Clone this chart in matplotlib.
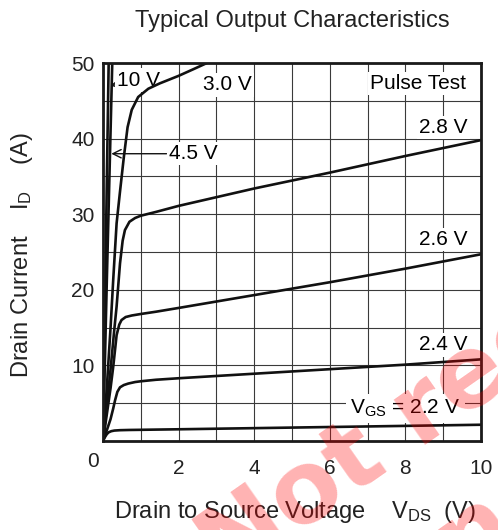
import matplotlib
matplotlib.use('Agg')
import matplotlib.pyplot as plt
import numpy as np

plt.rcParams['font.family'] = ['Liberation Sans', 'DejaVu Sans']
plt.rcParams['mathtext.fontset'] = 'custom'
plt.rcParams['mathtext.rm'] = 'Liberation Sans'
plt.rcParams['mathtext.it'] = 'Liberation Sans:italic'

# ---- data (VDS in V, ID in A) ----
vds_10v = [0, 0.05, 0.10, 0.15]
id_10v = [0, 17, 34, 50]

vds_45v = [0, 0.05, 0.10, 0.15, 0.20, 0.245]
id_45v = [0, 10.5, 21, 31, 41, 50]

vds_30v = [0, 0.10, 0.20, 0.27, 0.36, 0.45, 0.55, 0.65, 0.76, 0.93, 1.2, 1.5, 2.0, 2.4, 2.75]
id_30v = [0, 7, 15, 21.3, 28.8, 33.0, 37.5, 41.5, 43.8, 45.5, 46.6, 47.3, 48.3, 49.2, 50]

vds_28v = [0, 0.10, 0.20, 0.30, 0.36, 0.45, 0.52, 0.58, 0.70, 0.85, 1.0, 1.4, 2.0, 4.0, 6.0, 8.0, 10.0]
id_28v = [0, 4.5, 9.5, 14.8, 17.8, 23.5, 26.5, 27.9, 29.0, 29.5, 29.8, 30.3, 31.1, 33.4, 35.5, 37.7, 39.8]

vds_26v = [0, 0.10, 0.20, 0.27, 0.36, 0.43, 0.49, 0.60, 0.76, 1.0, 1.4, 2.0, 4.0, 6.0, 8.0, 10.0]
id_26v = [0, 3.5, 7.0, 9.8, 14.0, 15.4, 16.0, 16.4, 16.6, 16.8, 17.1, 17.6, 19.3, 21.0, 22.8, 24.7]

vds_24v = [0, 0.10, 0.20, 0.27, 0.32, 0.38, 0.45, 0.55, 0.67, 0.85, 1.0, 1.4, 2.0, 4.0, 6.0, 8.0, 10.0]
id_24v = [0, 1.4, 2.9, 4.3, 5.4, 6.5, 7.1, 7.4, 7.6, 7.8, 7.9, 8.1, 8.3, 8.9, 9.5, 10.1, 10.8]

vds_22v = [0, 0.05, 0.10, 0.15, 0.22, 0.30, 0.45, 0.7, 1.0, 2.0, 4.0, 6.0, 8.0, 10.0]
id_22v = [0, 0.5, 0.9, 1.15, 1.3, 1.38, 1.43, 1.46, 1.48, 1.55, 1.7, 1.85, 2.0, 2.15]

x_ticks = [2, 4, 6, 8, 10]
y_ticks = [10, 20, 30, 40, 50]

curves = [(vds_10v, id_10v), (vds_45v, id_45v), (vds_30v, id_30v), (vds_28v, id_28v),
          (vds_26v, id_26v), (vds_24v, id_24v), (vds_22v, id_22v)]

fig = plt.figure(figsize=(4.98, 5.30), dpi=100)
ax = fig.add_axes([103 / 498, 89 / 530, 378 / 498, 378 / 530])

for vds, ids in curves:
    ax.plot(vds, ids, color='#111111', lw=1.9, solid_capstyle='round', zorder=2)

ax.set_xlim(0, 10)
ax.set_ylim(0, 50)
ax.set_xticks(x_ticks)
ax.set_yticks(y_ticks)
ax.set_xticks(np.arange(0, 11, 1), minor=True)
ax.set_yticks(np.arange(0, 51, 5), minor=True)
ax.tick_params(which='both', length=0, labelsize=15, colors='#222222')
ax.tick_params(axis='x', pad=13)
ax.tick_params(axis='y', pad=6)
ax.set_axisbelow(True)
ax.grid(which='both', color='#3a3a3a', lw=0.8)
for sp in ax.spines.values():
    sp.set_linewidth(2.0)
    sp.set_color('#1a1a1a')

# shared origin label
ax.text(-0.265, -2.65, '0', ha='center', va='center', fontsize=15, color='#222222', clip_on=False)

ax.set_title('Typical Output Characteristics', fontsize=17, color='#222222', y=1.095, pad=0)
ax.set_xlabel(r'Drain to Source Voltage    V$_\mathregular{DS}$  (V)', fontsize=17, color='#222222', va='center')
ax.xaxis.set_label_coords(0.507, -0.188)
ax.set_ylabel(r'Drain Current    I$_\mathregular{D}$    (A)', fontsize=17, color='#222222', va='center')
ax.yaxis.set_label_coords(-0.213, 0.492)

box = dict(facecolor='white', edgecolor='none', pad=1.5)
arrow = dict(arrowstyle='->', lw=1.0, color='#111111', shrinkA=0, shrinkB=0)

ax.annotate('10 V', xy=(0.19, 47.0), xytext=(0.93, 47.75), fontsize=15, ha='center', va='center',
            bbox=box, arrowprops=arrow, zorder=1.5)
ax.annotate('4.5 V', xy=(0.22, 38.0), xytext=(2.38, 38.0), fontsize=15, ha='center', va='center',
            bbox=box, arrowprops=arrow, zorder=1.5)
ax.text(3.3, 47.1, '3.0 V', fontsize=15, ha='center', va='center', bbox=box, zorder=1.5)
ax.text(8.33, 47.3, 'Pulse Test', fontsize=15, ha='center', va='center', bbox=box, zorder=1.5)
ax.text(9.0, 41.5, '2.8 V', fontsize=15, ha='center', va='center', bbox=box, zorder=1.5)
ax.text(9.0, 26.65, '2.6 V', fontsize=15, ha='center', va='center', bbox=box, zorder=1.5)
ax.text(9.0, 12.7, '2.4 V', fontsize=15, ha='center', va='center', bbox=box, zorder=1.5)
ax.text(8.0, 4.3, r'V$_\mathregular{GS}$ = 2.2 V', fontsize=15, ha='center', va='center',
        bbox=dict(facecolor='white', edgecolor='none', pad=3), zorder=1.5)

# watermark, two parallel lines running up to the right
mark = dict(transform=fig.transFigure, rotation=35, rotation_mode='anchor', ha='left',
            va='baseline', fontsize=72, fontweight='bold', family='DejaVu Sans',
            color='red', alpha=0.3, zorder=5, clip_on=False)
ax.text(226 / 498, 1 - 584 / 530, 'Not recommended', **mark)
ax.text(302 / 498, 1 - 692 / 530, 'for new designs', **mark)

fig.savefig('out.png', dpi=100)
